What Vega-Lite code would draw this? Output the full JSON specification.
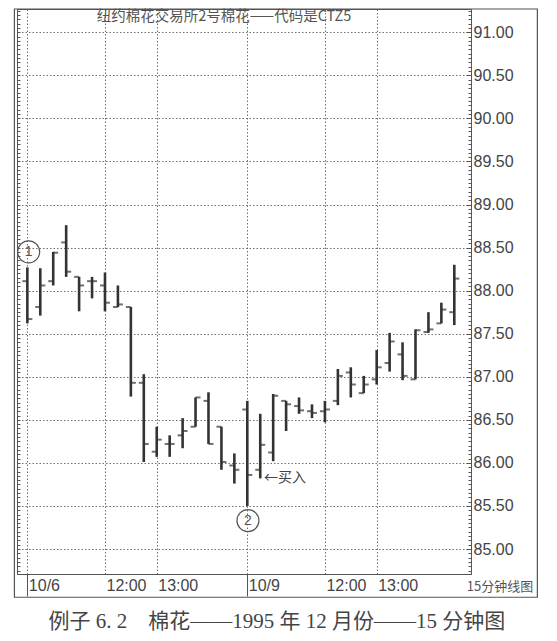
{
  "$schema": "https://vega.github.io/schema/vega-lite/v6.json",
  "width": 454,
  "height": 565,
  "autosize": {"type": "none"},
  "padding": {"left": 17, "top": 9, "right": 86, "bottom": 67},
  "background": "#ffffff",
  "config": {
    "view": {"stroke": "#555555", "strokeWidth": 1}
  },
  "datasets": {
    "bars": [
      {"i": 1, "o": 88.11, "h": 88.27, "l": 87.62, "c": 87.67},
      {"i": 2, "o": 87.81, "h": 88.26, "l": 87.71, "c": 88.06},
      {"i": 3, "o": 88.11, "h": 88.45, "l": 88.06, "c": 88.44},
      {"i": 4, "o": 88.56, "h": 88.76, "l": 88.16, "c": 88.22},
      {"i": 5, "o": 88.16, "h": 88.16, "l": 87.76, "c": 88.06},
      {"i": 6, "o": 88.11, "h": 88.16, "l": 87.91, "c": 88.11},
      {"i": 7, "o": 88.06, "h": 88.21, "l": 87.76, "c": 87.86},
      {"i": 8, "o": 87.81, "h": 88.06, "l": 87.81, "c": 87.84},
      {"i": 9, "o": 87.81, "h": 87.81, "l": 86.77, "c": 86.93},
      {"i": 10, "o": 86.93, "h": 87.03, "l": 86.01, "c": 86.22},
      {"i": 11, "o": 86.13, "h": 86.42, "l": 86.07, "c": 86.27},
      {"i": 12, "o": 86.22, "h": 86.32, "l": 86.07, "c": 86.22},
      {"i": 13, "o": 86.32, "h": 86.52, "l": 86.17, "c": 86.37},
      {"i": 14, "o": 86.42, "h": 86.76, "l": 86.42, "c": 86.76},
      {"i": 15, "o": 86.72, "h": 86.82, "l": 86.22, "c": 86.22},
      {"i": 16, "o": 86.42, "h": 86.42, "l": 85.92, "c": 86.01},
      {"i": 17, "o": 85.97, "h": 86.11, "l": 85.76, "c": 85.92},
      {"i": 18, "o": 86.62, "h": 86.72, "l": 85.5, "c": 85.86},
      {"i": 19, "o": 85.92, "h": 86.57, "l": 85.82, "c": 86.21},
      {"i": 20, "o": 86.12, "h": 86.8, "l": 86.02, "c": 86.78},
      {"i": 21, "o": 86.72, "h": 86.72, "l": 86.37, "c": 86.68},
      {"i": 22, "o": 86.66, "h": 86.76, "l": 86.57, "c": 86.61},
      {"i": 23, "o": 86.6, "h": 86.68, "l": 86.52, "c": 86.58},
      {"i": 24, "o": 86.6, "h": 86.72, "l": 86.47, "c": 86.62},
      {"i": 25, "o": 86.72, "h": 87.09, "l": 86.67, "c": 87.01},
      {"i": 26, "o": 87.05, "h": 87.11, "l": 86.76, "c": 86.91},
      {"i": 27, "o": 86.81, "h": 87.01, "l": 86.81, "c": 86.91},
      {"i": 28, "o": 86.97, "h": 87.31, "l": 86.91, "c": 87.11},
      {"i": 29, "o": 87.16, "h": 87.51, "l": 87.06, "c": 87.41},
      {"i": 30, "o": 87.26, "h": 87.4, "l": 86.96, "c": 87.01},
      {"i": 31, "o": 86.97, "h": 87.55, "l": 86.97, "c": 87.54},
      {"i": 32, "o": 87.52, "h": 87.75, "l": 87.51, "c": 87.55},
      {"i": 33, "o": 87.62, "h": 87.86, "l": 87.62, "c": 87.78},
      {"i": 34, "o": 87.75, "h": 88.3, "l": 87.6, "c": 88.14}
    ]
  },
  "resolve": {"axis": {"x": "independent", "y": "independent"}},
  "layer": [
    {
      "data": {"name": "bars"},
      "mark": {"type": "rule", "strokeWidth": 2.6, "color": "#333333"},
      "encoding": {
        "x": {
          "field": "i", "type": "quantitative",
          "scale": {"domain": [0.2, 35.29], "nice": false, "zero": false},
          "axis": {
            "orient": "bottom",
            "values": [1, 7, 11, 18, 24, 28],
            "labelExpr": "datum.value == 1 ? '10/6' : datum.value == 18 ? '10/9' : (datum.value == 7 || datum.value == 24) ? '12:00' : '13:00'",
            "labelAlign": "left", "labelBaseline": "middle",
            "labelPadding": -11, "labelOffset": 1, "labelFlush": false, "labelOverlap": false,
            "labelFont": "Liberation Sans", "labelFontSize": 16, "labelColor": "#444444",
            "tickSize": 22,
            "tickColor": {"condition": {"test": "datum.value == 1 || datum.value == 18", "value": "#555555"}, "value": "transparent"},
            "grid": true, "gridDash": [1.5, 2], "gridColor": "#6f6f6f", "gridWidth": 1,
            "domain": true, "domainColor": "#555555", "title": null
          }
        },
        "y": {
          "field": "l", "type": "quantitative",
          "scale": {"domain": [84.71, 91.27], "nice": false, "zero": false},
          "axis": {
            "orient": "right",
            "values": [85, 85.5, 86, 86.5, 87, 87.5, 88, 88.5, 89, 89.5, 90, 90.5, 91],
            "format": ".2f",
            "labelFont": "Liberation Sans", "labelFontSize": 16, "labelColor": "#444444",
            "labelAlign": "left", "labelBaseline": "middle", "labelPadding": 7,
            "tickSize": -5, "tickColor": "#555555",
            "grid": true, "gridDash": [1.5, 2], "gridColor": "#6f6f6f", "gridWidth": 1,
            "domain": true, "domainColor": "#555555", "title": null
          }
        },
        "y2": {"field": "h"}
      }
    },
    {
      "data": {"name": "bars"},
      "mark": {"type": "tick", "orient": "horizontal", "size": 5, "thickness": 2, "xOffset": -2.5, "color": "#333333"},
      "encoding": {
        "x": {"field": "i", "type": "quantitative", "axis": null},
        "y": {
          "field": "o", "type": "quantitative",
          "axis": {"orient": "right", "tickCount": 130, "labels": false, "grid": false, "domain": false, "tickSize": -3, "tickColor": "#555555", "title": null}
        }
      }
    },
    {
      "data": {"name": "bars"},
      "mark": {"type": "tick", "orient": "horizontal", "size": 5, "thickness": 2, "xOffset": 2.5, "color": "#333333"},
      "encoding": {
        "x": {"field": "i", "type": "quantitative", "axis": null},
        "y": {
          "field": "c", "type": "quantitative",
          "axis": {"orient": "left", "tickCount": 130, "labels": false, "grid": false, "domain": false, "tickSize": -3, "tickColor": "#555555", "title": null}
        }
      }
    },
    {
      "data": {"values": [{}]},
      "mark": {"type": "rect", "fill": "transparent", "stroke": "#555555", "strokeWidth": 1.2},
      "encoding": {
        "x": {"datum": 0.0, "type": "quantitative", "axis": null},
        "x2": {"datum": 40.42},
        "y": {"datum": 91.27, "type": "quantitative", "axis": null},
        "y2": {"datum": 84.44}
      }
    },
    {
      "data": {"values": [{}]},
      "mark": {"type": "text", "text": "纽约棉花交易所2号棉花——代码是CTZ5", "font": "Noto Sans CJK SC", "fontSize": 14.5, "color": "#555555", "align": "center", "baseline": "middle"},
      "encoding": {
        "x": {"datum": 16.2, "type": "quantitative", "axis": null},
        "y": {"datum": 91.18, "type": "quantitative", "axis": null}
      }
    },
    {
      "data": {"values": [{}]},
      "encoding": {
        "x": {"datum": 1.1, "type": "quantitative", "axis": null},
        "y": {"datum": 88.45, "type": "quantitative", "axis": null}
      },
      "layer": [
        {"mark": {"type": "point", "shape": "circle", "filled": false, "size": 484, "stroke": "#555555", "strokeWidth": 1.2, "opacity": 1}},
        {"mark": {"type": "text", "text": "1", "font": "Liberation Sans", "fontSize": 14, "color": "#555555", "align": "center", "baseline": "middle"}}
      ]
    },
    {
      "data": {"values": [{}]},
      "encoding": {
        "x": {"datum": 18.05, "type": "quantitative", "axis": null},
        "y": {"datum": 85.33, "type": "quantitative", "axis": null}
      },
      "layer": [
        {"mark": {"type": "point", "shape": "circle", "filled": false, "size": 484, "stroke": "#555555", "strokeWidth": 1.2, "opacity": 1}},
        {"mark": {"type": "text", "text": "2", "font": "Liberation Sans", "fontSize": 14, "color": "#555555", "align": "center", "baseline": "middle"}}
      ]
    },
    {
      "data": {"values": [{}]},
      "mark": {"type": "text", "text": "←买入", "font": "Noto Sans CJK SC", "fontSize": 14, "color": "#444444", "align": "left", "baseline": "middle"},
      "encoding": {
        "x": {"datum": 19.29, "type": "quantitative", "axis": null},
        "y": {"datum": 85.82, "type": "quantitative", "axis": null}
      }
    },
    {
      "data": {"values": [{}]},
      "mark": {"type": "text", "text": "15分钟线图", "font": "Noto Sans CJK SC", "fontSize": 13, "color": "#555555", "align": "center", "baseline": "middle"},
      "encoding": {
        "x": {"datum": 37.53, "type": "quantitative", "axis": null},
        "y": {"datum": 84.56, "type": "quantitative", "axis": null}
      }
    },
    {
      "data": {"values": [{}]},
      "mark": {"type": "text", "text": "例子 6. 2　棉花——1995 年 12 月份——15 分钟图", "font": "Liberation Serif, Noto Sans CJK SC", "fontSize": 21, "color": "#444444", "align": "center", "baseline": "middle"},
      "encoding": {
        "x": {"datum": 20.29, "type": "quantitative", "axis": null},
        "y": {"datum": 84.15, "type": "quantitative", "axis": null}
      }
    }
  ]
}
